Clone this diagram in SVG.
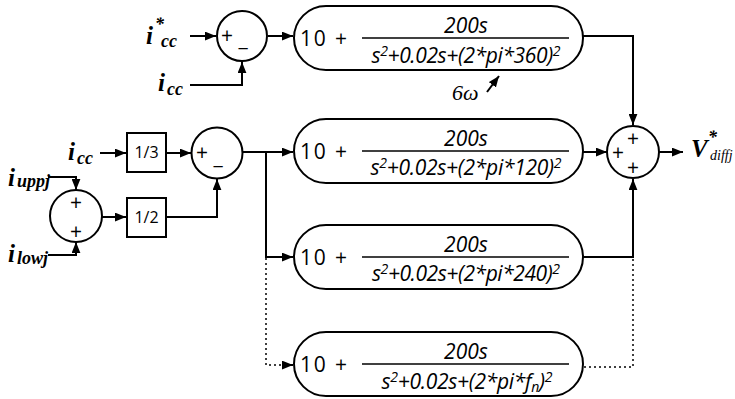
<svg xmlns="http://www.w3.org/2000/svg" width="735" height="399" viewBox="0 0 735 399">
<style>
.ln{fill:none;stroke:#000;stroke-width:2}
.dot{fill:none;stroke:#000;stroke-width:1.5;stroke-dasharray:2 3}
.sh{fill:#fff;stroke:#000;stroke-width:2}
.fl{stroke:#000;stroke-width:1.6}
.ten{font-family:"Open Sans","Liberation Sans",sans-serif;font-size:21px;font-weight:500}
.fr{font-family:"Open Sans","Liberation Sans",sans-serif;font-size:21px;font-style:italic;font-weight:500;text-anchor:middle}
.sp{font-size:14px}
.sg{font-family:"Open Sans","Liberation Sans",sans-serif;font-size:21px;font-weight:500;text-anchor:middle}
.lb{font-family:"Liberation Serif","Times New Roman",serif;font-style:italic;font-weight:bold;font-size:25px}
.sb{font-family:"Liberation Serif","Times New Roman",serif;font-style:italic;font-weight:bold;font-size:18px}
.bx{font-family:"Open Sans","Liberation Sans",sans-serif;font-size:16px;text-anchor:middle}
</style>
<defs>
<marker id="ah" markerUnits="userSpaceOnUse" viewBox="0 0 10 8" refX="10" refY="4" markerWidth="11" markerHeight="9" orient="auto">
<path d="M0,0 L10,4 L0,8 z" fill="#000"/>
</marker>
</defs>
<g id="connectors">
<path class="ln" d="M190,36 H216" marker-end="url(#ah)"/>
<path class="ln" d="M190,85 H242 V62" marker-end="url(#ah)"/>
<path class="ln" d="M268,36 H293" marker-end="url(#ah)"/>
<path class="ln" d="M583,36 H633 V125" marker-end="url(#ah)"/>
<path class="ln" d="M100,153 H126" marker-end="url(#ah)"/>
<path class="ln" d="M167,153 H191" marker-end="url(#ah)"/>
<path class="ln" d="M48,177 H76 V190" marker-end="url(#ah)"/>
<path class="ln" d="M48,255 H76 V242" marker-end="url(#ah)"/>
<path class="ln" d="M102,217 H126" marker-end="url(#ah)"/>
<path class="ln" d="M167,217 H217 V179" marker-end="url(#ah)"/>
<path class="ln" d="M243,152 H293" marker-end="url(#ah)"/>
<path class="ln" d="M266,152 V257 H293" marker-end="url(#ah)"/>
<path class="ln" d="M583,152 H607" marker-end="url(#ah)"/>
<path class="ln" d="M583,257 H633 V179" marker-end="url(#ah)"/>
<path class="ln" d="M659,152 H683" marker-end="url(#ah)"/>
<path class="dot" d="M266,258 V365 H284"/>
<path class="ln" d="M284,365 H293" marker-end="url(#ah)"/>
<path class="dot" d="M584,367 H633 V258"/>
<path class="ln" d="M487,92 L499,76" marker-end="url(#ah)"/>
</g>
<g id="in_iccstar"><text class="lb" x="146" y="44">i</text><text class="sb" x="155" y="30">*</text><text class="sb" x="161" y="47">cc</text></g>
<g id="in_icc_top"><text class="lb" x="158" y="91">i</text><text class="sb" x="167" y="95">cc</text></g>
<g id="in_icc_mid"><text class="lb" x="68" y="160">i</text><text class="sb" x="77" y="164">cc</text></g>
<g id="in_iuppj"><text class="lb" x="8" y="186">i</text><text class="sb" x="17" y="187">uppj</text></g>
<g id="in_ilowj"><text class="lb" x="8" y="262">i</text><text class="sb" x="17" y="264">lowj</text></g>
<g id="out_v"><text class="lb" x="691" y="157" font-size="22px">V</text><text class="sb" x="708" y="143" font-size="13px">*</text><text x="710" y="160" font-family="Liberation Serif,serif" font-style="italic" font-size="14px">diffj</text></g>
<g id="label_6w"><text x="452" y="100" font-family="Liberation Serif,serif" font-style="italic" font-size="22px">6ω</text></g>
<g id="sum1"><circle class="sh" cx="242" cy="36" r="25"/><text class="sg" x="227" y="43">+</text><text class="sg" x="243" y="46">_</text></g>
<g id="sum2"><circle class="sh" cx="217" cy="153" r="25.5"/><text class="sg" x="202" y="160">+</text><text class="sg" x="218" y="164">_</text></g>
<g id="sum3"><circle class="sh" cx="76" cy="216" r="26"/><text class="sg" x="76" y="210">+</text><text class="sg" x="76" y="239">+</text></g>
<g id="sum4"><circle class="sh" cx="633" cy="152" r="26"/><text class="sg" x="633" y="146">+</text><text class="sg" x="618" y="160">+</text><text class="sg" x="633" y="175">+</text></g>
<g id="gain13"><rect class="sh" x="127" y="133" width="39" height="39"/><text class="bx" x="146.5" y="158">1/3</text></g>
<g id="gain12"><rect class="sh" x="127" y="198" width="39" height="39"/><text class="bx" x="146.5" y="223">1/2</text></g>
<g id="res360"><rect class="sh" x="294" y="6" width="289" height="64" rx="32"/><text class="ten" x="300" y="46" textLength="47">10 +</text><line class="fl" x1="362" y1="38" x2="569" y2="38"/><text class="fr" x="466" y="33">200s</text><text class="fr" x="466" y="63" textLength="189">s<tspan class="sp" dy="-7">2</tspan><tspan dy="7">+0.02s+(2*pi*360)</tspan><tspan class="sp" dy="-7">2</tspan></text></g>
<g id="res120"><rect class="sh" x="294" y="119" width="289" height="64" rx="32"/><text class="ten" x="300" y="159" textLength="47">10 +</text><line class="fl" x1="362" y1="151" x2="569" y2="151"/><text class="fr" x="466" y="146">200s</text><text class="fr" x="466" y="175" textLength="191">s<tspan class="sp" dy="-7">2</tspan><tspan dy="7">+0.02s+(2*pi*120)</tspan><tspan class="sp" dy="-7">2</tspan></text></g>
<g id="res240"><rect class="sh" x="294" y="225" width="289" height="64" rx="32"/><text class="ten" x="300" y="265" textLength="47">10 +</text><line class="fl" x1="362" y1="257" x2="569" y2="257"/><text class="fr" x="466" y="252">200s</text><text class="fr" x="466" y="281" textLength="188">s<tspan class="sp" dy="-7">2</tspan><tspan dy="7">+0.02s+(2*pi*240)</tspan><tspan class="sp" dy="-7">2</tspan></text></g>
<g id="resfn"><rect class="sh" x="294" y="332" width="289" height="64" rx="32"/><text class="ten" x="300" y="372" textLength="47">10 +</text><line class="fl" x1="362" y1="364" x2="569" y2="364"/><text class="fr" x="466" y="359">200s</text><text class="fr" x="467" y="389" textLength="171">s<tspan class="sp" dy="-7">2</tspan><tspan dy="7">+0.02s+(2*pi*f</tspan><tspan class="sp" dy="3">n</tspan><tspan dy="-3">)</tspan><tspan class="sp" dy="-7">2</tspan></text></g>
</svg>
